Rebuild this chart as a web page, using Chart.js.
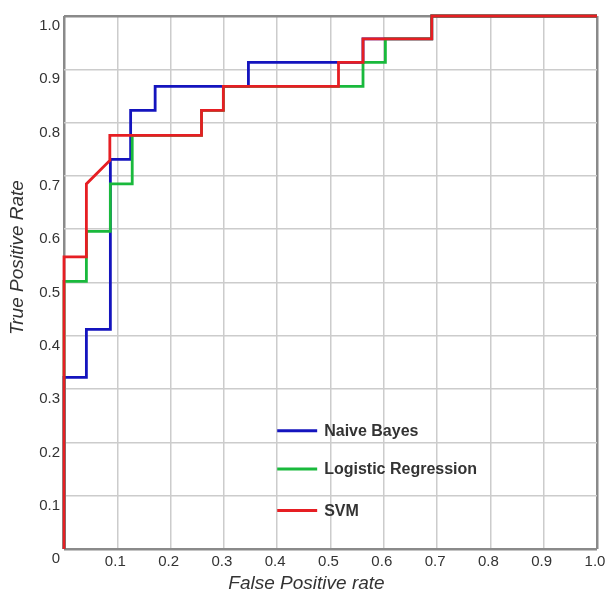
<!DOCTYPE html>
<html>
<head>
<meta charset="utf-8">
<script src="https://cdn.jsdelivr.net/npm/chart.js@4/dist/chart.umd.min.js"></script>
<style>
body { margin: 0; background: #fff; }
#wrap { width: 612px; height: 600px; }
</style>
</head>
<body>
<div id="wrap"><canvas id="myChart" width="612" height="600"></canvas></div>
<script>
// ROC curves
const seriesNames = ['Naive Bayes', 'Logistic Regression', 'SVM'];
const seriesColors = ['rgb(20,20,190)', 'rgb(25,185,60)', 'rgb(230,30,35)'];

const nbFpr = [0, 0, 0.042, 0.042, 0.087, 0.087, 0.125, 0.125, 0.171, 0.171, 0.346, 0.346, 0.515, 0.561, 0.561, 0.69, 0.69, 1.0];
const nbTpr = [0, 0.322, 0.322, 0.412, 0.412, 0.731, 0.731, 0.823, 0.823, 0.868, 0.868, 0.913, 0.913, 0.913, 0.957, 0.957, 1.0, 1.0];

const lrFpr = [0, 0, 0.042, 0.042, 0.087, 0.087, 0.128, 0.128, 0.258, 0.258, 0.299, 0.299, 0.561, 0.561, 0.603, 0.603, 0.69, 0.69, 1.0];
const lrTpr = [0, 0.502, 0.502, 0.596, 0.596, 0.685, 0.685, 0.776, 0.776, 0.823, 0.823, 0.868, 0.868, 0.913, 0.913, 0.957, 0.957, 1.0, 1.0];

const svmFpr = [0, 0, 0.042, 0.042, 0.086, 0.086, 0.258, 0.258, 0.299, 0.299, 0.515, 0.515, 0.561, 0.561, 0.69, 0.69, 1.0];
const svmTpr = [0, 0.548, 0.548, 0.685, 0.729, 0.776, 0.776, 0.823, 0.823, 0.868, 0.868, 0.913, 0.913, 0.957, 0.957, 1.0, 1.0];

const tickValues = [0, 0.1, 0.2, 0.3, 0.4, 0.5, 0.6, 0.7, 0.8, 0.9, 1.0];
const xTitle = 'False Positive rate';
const yTitle = 'True Positive Rate';

function toPoints(xs, ys) {
	return xs.map((x, i) => ({x: x, y: ys[i]}));
}

const FONT = 'Arial, "Liberation Sans", sans-serif';
const TEXT = '#333';

// legend drawn inside the plot, axis titles (a bit off-centre like the original), and the shared "0"
const extras = {
	id: 'extras',
	afterDraw(chart) {
		const c = chart.ctx;
		const xs = chart.scales.x, ys = chart.scales.y;
		const area = chart.chartArea;
		c.save();
		c.fillStyle = TEXT;
		c.font = '15px ' + FONT;
		c.textAlign = 'center';
		c.textBaseline = 'middle';
		c.fillText('0', xs.getPixelForValue(0) - 8, ys.getPixelForValue(0) + 10);

		// axis titles
		c.font = 'italic 19px ' + FONT;
		c.fillText(xTitle, (area.left + area.right) / 2 - 24, area.bottom + 35);
		c.save();
		c.translate(18, (area.top + area.bottom) / 2 - 25);
		c.rotate(-Math.PI / 2);
		c.fillText(yTitle, 0, 0);
		c.restore();

		const rows = [0.222, 0.150, 0.072];
		const x0 = xs.getPixelForValue(0.40), x1 = xs.getPixelForValue(0.475);
		c.font = 'bold 16px ' + FONT;
		c.textAlign = 'left';
		seriesNames.forEach((name, i) => {
			const y = ys.getPixelForValue(rows[i]);
			c.strokeStyle = seriesColors[i];
			c.lineWidth = 3;
			c.beginPath();
			c.moveTo(x0, y);
			c.lineTo(x1, y);
			c.stroke();
			c.fillText(name, x1 + 7, y + 1);
		});
		c.restore();
	}
};

const gridColor = ctx => (ctx.tick && (ctx.tick.value === 0 || ctx.tick.value === 1)) ? '#8a8a8a' : '#cccccc';
const gridWidth = ctx => (ctx.tick && (ctx.tick.value === 0 || ctx.tick.value === 1)) ? 2.5 : 1.5;

let myChart = new Chart(document.getElementById('myChart'), {
	type: 'scatter',
	data: {
		datasets: [
			{label: seriesNames[0], data: toPoints(nbFpr, nbTpr), borderColor: seriesColors[0], order: 3},
			{label: seriesNames[1], data: toPoints(lrFpr, lrTpr), borderColor: seriesColors[1], order: 2},
			{label: seriesNames[2], data: toPoints(svmFpr, svmTpr), borderColor: seriesColors[2], order: 1}
		].map(d => Object.assign(d, {showLine: true, borderWidth: 2.8, pointRadius: 0, tension: 0, clip: 5}))
	},
	options: {
		responsive: false,
		animation: false,
		layout: {padding: {top: 16, right: 15, left: 0, bottom: 0}},
		plugins: {legend: {display: false}, tooltip: {enabled: false}},
		scales: {
			x: {
				min: 0, max: 1,
				afterBuildTicks: s => { s.ticks = tickValues.map(v => ({value: v})); },
				afterFit: s => { s.height = 51; },
				border: {display: false},
				grid: {color: gridColor, lineWidth: gridWidth, drawTicks: false},
				ticks: {
					padding: 4, color: TEXT, font: {family: FONT, size: 15},
					maxRotation: 0, autoSkip: false, labelOffset: -2,
					callback: v => v === 0 ? '' : v.toFixed(1)
				}
			},
			y: {
				min: 0, max: 1,
				afterBuildTicks: s => { s.ticks = tickValues.map(v => ({value: v})); },
				afterFit: s => { s.width = 64; },
				border: {display: false},
				grid: {color: gridColor, lineWidth: gridWidth, drawTicks: false},
				ticks: {
					padding: 4, color: TEXT, font: {family: FONT, size: 15},
					autoSkip: false, labelOffset: 10,
					callback: v => v === 0 ? '' : v.toFixed(1)
				}
			}
		}
	},
	plugins: [extras]
});
</script>
</body>
</html>
